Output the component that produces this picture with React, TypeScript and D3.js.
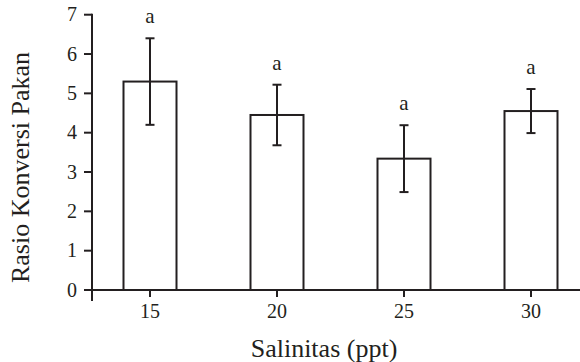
import * as d3 from "d3"
import { useEffect, useRef } from "react"

// salinity treatments (ppt)
const salinities = ["15", "20", "25", "30"]
// mean feed conversion ratio per treatment
const means = [5.3, 4.45, 3.34, 4.55]
// standard deviation (error bar half length)
const errors = [1.1, 0.77, 0.85, 0.56]
// significance letters
const letters = ["a", "a", "a", "a"]
const yTicks = [0, 1, 2, 3, 4, 5, 6, 7]

const ink = "#231f20"
const font = "Times New Roman, Times, Liberation Serif, serif"

const App = () => {
  const svgRef = useRef<SVGSVGElement | null>(null)

  useEffect(() => {
    if (!svgRef.current) return
    const svg = d3.select(svgRef.current)
    svg.selectAll("*").remove()

    const data = salinities.map((s, i) => ({
      s,
      mean: means[i],
      err: errors[i],
      letter: letters[i]
    }))

    const x = d3.scalePoint<string>().domain(salinities).range([150, 531])
    const y = d3.scaleLinear().domain([0, 7]).range([290, 14.7])
    const barW = 53
    const axisX = 92

    const g = svg.append("g").style("font-family", font)

    // bars
    g.selectAll(".bar")
      .data(data)
      .enter()
      .append("rect")
      .attr("x", d => (x(d.s) || 0) - barW / 2)
      .attr("y", d => y(d.mean))
      .attr("width", barW)
      .attr("height", d => y(0) - y(d.mean))
      .attr("fill", "white")
      .attr("stroke", ink)
      .attr("stroke-width", 2)

    // error bars
    const eb = g.selectAll(".err").data(data).enter().append("g")
    eb.append("line")
      .attr("x1", d => x(d.s) || 0)
      .attr("x2", d => x(d.s) || 0)
      .attr("y1", d => y(d.mean + d.err))
      .attr("y2", d => y(d.mean - d.err))
      .attr("stroke", ink)
      .attr("stroke-width", 2)
    ;[1, -1].forEach(sign => {
      eb.append("line")
        .attr("x1", d => (x(d.s) || 0) - 4.5)
        .attr("x2", d => (x(d.s) || 0) + 4.5)
        .attr("y1", d => y(d.mean + sign * d.err))
        .attr("y2", d => y(d.mean + sign * d.err))
        .attr("stroke", ink)
        .attr("stroke-width", 2)
    })

    // letters
    g.selectAll(".letter")
      .data(data)
      .enter()
      .append("text")
      .attr("x", d => x(d.s) || 0)
      .attr("y", d => y(d.mean + d.err) - 15)
      .attr("text-anchor", "middle")
      .style("font-size", "21px")
      .attr("fill", ink)
      .text(d => d.letter)

    // x axis line
    g.append("line")
      .attr("x1", 84)
      .attr("x2", 580)
      .attr("y1", y(0))
      .attr("y2", y(0))
      .attr("stroke", ink)
      .attr("stroke-width", 2)

    // y axis line
    g.append("line")
      .attr("x1", axisX)
      .attr("x2", axisX)
      .attr("y1", y(7) - 1)
      .attr("y2", 301)
      .attr("stroke", ink)
      .attr("stroke-width", 2)

    // y ticks
    const yt = g.selectAll(".ytick").data(yTicks).enter().append("g")
    yt.append("line")
      .attr("x1", 84)
      .attr("x2", axisX)
      .attr("y1", d => y(d))
      .attr("y2", d => y(d))
      .attr("stroke", ink)
      .attr("stroke-width", 2)
    yt.append("text")
      .attr("x", 77)
      .attr("y", d => y(d))
      .attr("dy", "0.33em")
      .attr("text-anchor", "end")
      .style("font-size", "20px")
      .attr("fill", ink)
      .text(d => d)

    // x ticks
    const xt = g.selectAll(".xtick").data(salinities).enter().append("g")
    xt.append("line")
      .attr("x1", d => x(d) || 0)
      .attr("x2", d => x(d) || 0)
      .attr("y1", y(0))
      .attr("y2", y(0) + 7)
      .attr("stroke", ink)
      .attr("stroke-width", 2)
    xt.append("text")
      .attr("x", d => x(d) || 0)
      .attr("y", 318)
      .attr("text-anchor", "middle")
      .style("font-size", "20px")
      .attr("fill", ink)
      .text(d => d)

    // axis titles
    g.append("text")
      .attr("x", 324)
      .attr("y", 357)
      .attr("text-anchor", "middle")
      .style("font-size", "26px")
      .attr("fill", ink)
      .text("Salinitas (ppt)")

    g.append("text")
      .attr("transform", "translate(28.5,167.5) rotate(-90)")
      .attr("text-anchor", "middle")
      .style("font-size", "26px")
      .attr("fill", ink)
      .text("Rasio Konversi Pakan")
  }, [])

  return (
    <div style={{ position: "absolute", left: 0, top: 0 }}>
      <svg ref={svgRef} width={580} height={362} style={{ display: "block", background: "white" }} />
    </div>
  )
}

export default App
